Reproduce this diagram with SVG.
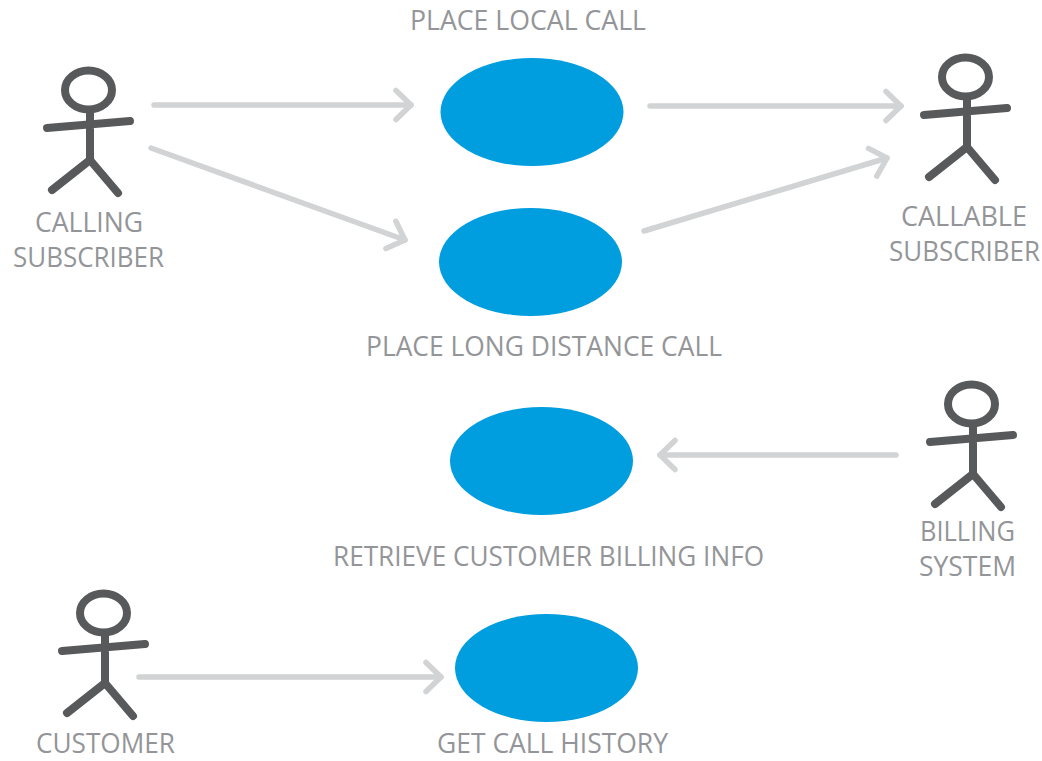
<svg xmlns="http://www.w3.org/2000/svg" width="1042" height="761" viewBox="0 0 1042 761">
<style>
text{font-family:"Open Sans","Liberation Sans",sans-serif;font-size:26.5px;fill:#939598;text-anchor:middle}
.uc{fill:#009ddf}
.a{fill:none;stroke:#58595b;stroke-width:8;stroke-linecap:round;stroke-linejoin:round}
.c{fill:none;stroke:#d1d3d4;stroke-width:5.5;stroke-linecap:round;marker-end:url(#h)}
</style>
<defs>
<marker id="h" markerUnits="userSpaceOnUse" markerWidth="40" markerHeight="40" refX="20" refY="20" orient="auto" viewBox="0 0 40 40"><path d="M5 5.5L20 20L5 34.5" fill="none" stroke="#d1d3d4" stroke-width="5.5" stroke-linecap="round" stroke-linejoin="round"/></marker>
<g id="actor"><ellipse cx="88.5" cy="90" rx="23.5" ry="19.5" class="a"/><path class="a" d="M90 113V160M47 128L130 121M52 190L90 160L118 193"/></g>
</defs>
<rect width="1042" height="761" fill="#fff"/>
<g id="connectors">
<path class="c" d="M154 105H411"/>
<path class="c" d="M151 148L405 240"/>
<path class="c" d="M650 106H901"/>
<path class="c" d="M644 231L887 158"/>
<path class="c" d="M896 455H660"/>
<path class="c" d="M139 677H441"/>
</g>
<g id="actor-calling"><use href="#actor"/><text x="89" y="232" textLength="108" lengthAdjust="spacingAndGlyphs">CALLING</text><text x="88.5" y="267" textLength="151" lengthAdjust="spacingAndGlyphs">SUBSCRIBER</text></g>
<g id="actor-callable"><use href="#actor" x="877" y="-13"/><text x="964" y="226" textLength="126" lengthAdjust="spacingAndGlyphs">CALLABLE</text><text x="964.5" y="261" textLength="151" lengthAdjust="spacingAndGlyphs">SUBSCRIBER</text></g>
<g id="actor-billing"><use href="#actor" x="883" y="314"/><text x="967.5" y="541" textLength="95" lengthAdjust="spacingAndGlyphs">BILLING</text><text x="967.5" y="576" textLength="97" lengthAdjust="spacingAndGlyphs">SYSTEM</text></g>
<g id="actor-customer"><use href="#actor" x="15" y="523"/><text x="105.5" y="753" textLength="139" lengthAdjust="spacingAndGlyphs">CUSTOMER</text></g>
<g id="uc-local"><ellipse class="uc" cx="532" cy="112" rx="91.5" ry="54"/><text x="528" y="30" textLength="236" lengthAdjust="spacingAndGlyphs">PLACE LOCAL CALL</text></g>
<g id="uc-long"><ellipse class="uc" cx="530.5" cy="262" rx="91.5" ry="54"/><text x="544" y="356" textLength="356" lengthAdjust="spacingAndGlyphs">PLACE LONG DISTANCE CALL</text></g>
<g id="uc-billing"><ellipse class="uc" cx="541.5" cy="461" rx="91.5" ry="54"/><text x="548.5" y="566" textLength="431" lengthAdjust="spacingAndGlyphs">RETRIEVE CUSTOMER BILLING INFO</text></g>
<g id="uc-history"><ellipse class="uc" cx="546.5" cy="668" rx="91.5" ry="54"/><text x="552.5" y="753" textLength="231" lengthAdjust="spacingAndGlyphs">GET CALL HISTORY</text></g>
</svg>
